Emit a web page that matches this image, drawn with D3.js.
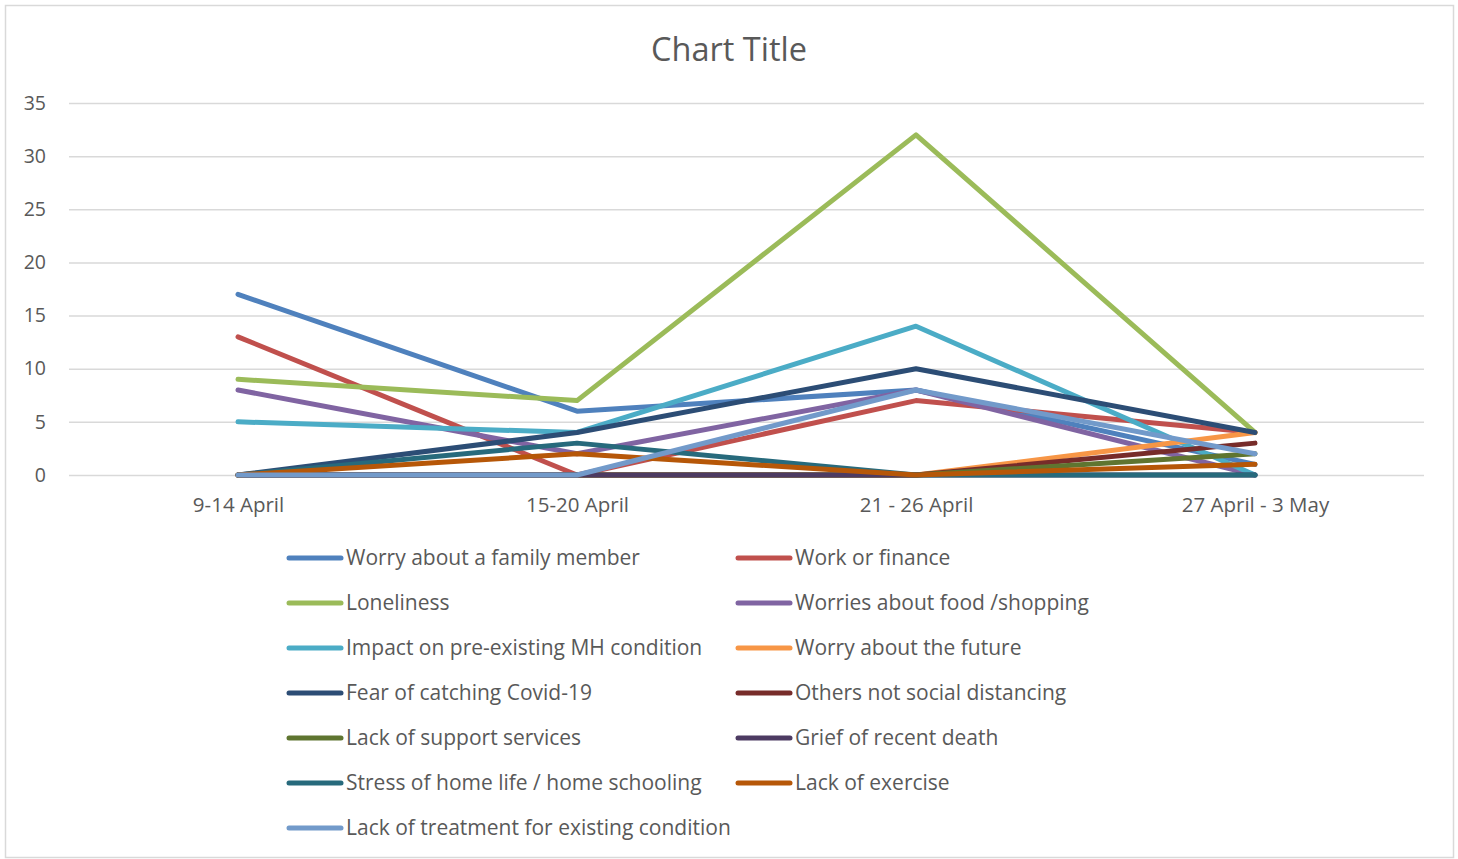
<!DOCTYPE html>
<html>
<head>
<meta charset="utf-8">
<script src="https://cdn.jsdelivr.net/npm/d3@7"></script>
<style>
  body { margin: 0; background: #fff; }
  svg { display: block; }
  text { font-family: "Open Sans", "Noto Sans", sans-serif; fill: #595959; }
</style>
</head>
<body>
<svg id="chart"></svg>
<script>
var width = 1458,
    height = 859;

// categories (x axis)
var weeks = ["9-14 April", "15-20 April", "21 - 26 April", "27 April - 3 May"];

// series names, in legend / drawing order
var seriesNames = [
    "Worry about a family member",
    "Work or finance",
    "Loneliness",
    "Worries about food /shopping",
    "Impact on pre-existing MH condition",
    "Worry about the future",
    "Fear of catching Covid-19",
    "Others not social distancing",
    "Lack of support services",
    "Grief of recent death",
    "Stress of home life / home schooling",
    "Lack of exercise",
    "Lack of treatment for existing condition"
];

// values per series, one per week
var worryFamily   = [17, 6, 8, 1];
var workFinance   = [13, 0, 7, 4];
var loneliness    = [9, 7, 32, 4];
var foodShopping  = [8, 2, 8, 0];
var impactMH      = [5, 4, 14, 0];
var worryFuture   = [0, 0, 0, 4];
var fearCovid     = [0, 4, 10, 4];
var othersSocial  = [0, 0, 0, 3];
var lackSupport   = [0, 0, 0, 2];
var grief         = [0, 0, 0, 0];
var stressHome    = [0, 3, 0, 0];
var lackExercise  = [0, 2, 0, 1];
var lackTreatment = [0, 0, 8, 2];

var yTicks = [0, 5, 10, 15, 20, 25, 30, 35];

var colors = ["#4F81BD", "#C0504D", "#9BBB59", "#8064A2", "#4BACC6", "#F79646",
              "#2C4D75", "#772C2A", "#5F7530", "#4D3B62", "#276A7C", "#B65708", "#729ACA"];

var allValues = [worryFamily, workFinance, loneliness, foodShopping, impactMH, worryFuture,
                 fearCovid, othersSocial, lackSupport, grief, stressHome, lackExercise, lackTreatment];

var series = seriesNames.map(function (name, i) {
    return { name: name, values: allValues[i], color: colors[i] };
});

var chart = d3.select("#chart")
    .attr("width", width)
    .attr("height", height);

// outer chart border
chart.append("rect")
    .attr("x", 5.5)
    .attr("y", 5.5)
    .attr("width", 1448)
    .attr("height", 852)
    .style("fill", "#fff")
    .style("stroke", "#d9d9d9")
    .style("stroke-width", 1.5);

chart.append("text")
    .attr("x", 729)
    .attr("y", 61)
    .attr("text-anchor", "middle")
    .style("font-size", "32.5px")
    .text("Chart Title");

var x = d3.scalePoint()
    .domain(weeks)
    .range([68.5, 1424.5])
    .padding(0.5);

var y = d3.scaleLinear()
    .domain([0, 35])
    .range([475, 103]);

// gridlines
var grid = d3.axisLeft(y)
    .tickValues(yTicks)
    .tickSize(-(1424 - 69))
    .tickFormat("");

chart.append("g")
    .attr("class", "grid")
    .attr("transform", "translate(69,0)")
    .call(grid)
    .call(function (g) {
        g.select(".domain").remove();
        g.selectAll("line").style("stroke", "#d9d9d9").style("stroke-width", 1.5);
    });

// y axis labels
var yAxis = d3.axisLeft(y)
    .tickValues(yTicks)
    .tickSize(0)
    .tickPadding(0);

chart.append("g")
    .attr("class", "yAxis")
    .attr("transform", "translate(46,0)")
    .call(yAxis)
    .call(function (g) {
        g.select(".domain").remove();
        g.selectAll("text").style("font-size", "19.5px").style("fill", "#595959")
            .style("font-family", "'Open Sans', sans-serif");
    });

// x axis labels
var xAxis = d3.axisBottom(x)
    .tickSize(0)
    .tickPadding(0);

chart.append("g")
    .attr("class", "xAxis")
    .attr("transform", "translate(0,497)")
    .call(xAxis)
    .call(function (g) {
        g.select(".domain").remove();
        g.selectAll("text").style("font-size", "20.5px").style("fill", "#595959")
            .style("font-family", "'Open Sans', sans-serif");
    });

var line = d3.line()
    .x(function (d, i) { return x(weeks[i]); })
    .y(function (d) { return y(d); });

chart.selectAll(".series")
    .data(series)
    .enter()
    .append("path")
    .attr("class", "series")
    .attr("d", function (d) { return line(d.values); })
    .style("fill", "none")
    .style("stroke", function (d) { return d.color; })
    .style("stroke-width", 5)
    .style("stroke-linejoin", "round")
    .style("stroke-linecap", "round");

// legend, two columns
var legend = chart.selectAll(".legend")
    .data(series)
    .enter()
    .append("g")
    .attr("class", "legend")
    .attr("transform", function (d, i) {
        var col = i % 2, row = Math.floor(i / 2);
        return "translate(" + (col === 0 ? 289 : 738) + "," + (558 + row * 45) + ")";
    });

legend.append("line")
    .attr("x1", 0)
    .attr("x2", 52)
    .style("stroke", function (d) { return d.color; })
    .style("stroke-width", 5)
    .style("stroke-linecap", "round");

legend.append("text")
    .attr("x", 57)
    .attr("dy", "0.35em")
    .style("font-size", "21px")
    .text(function (d) { return d.name; });
</script>
</body>
</html>
